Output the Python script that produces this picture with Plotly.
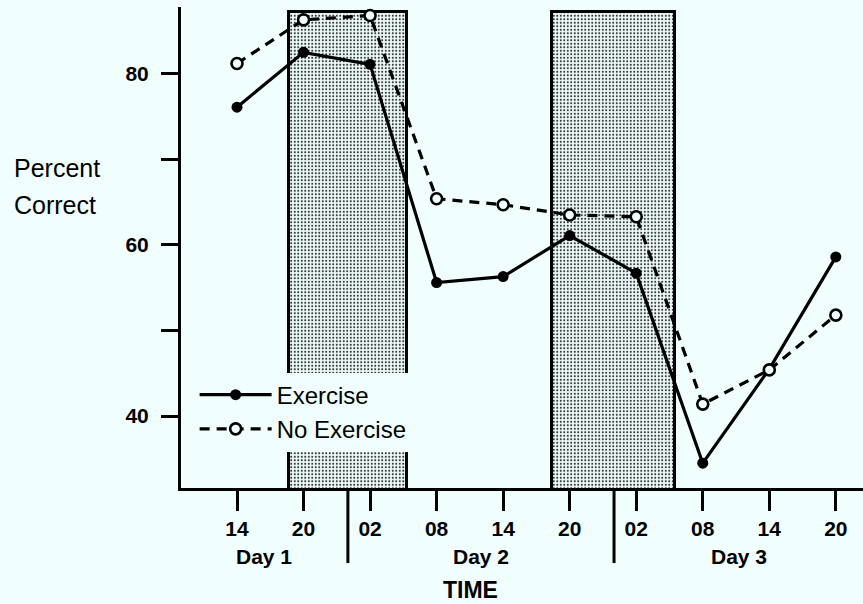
import plotly.graph_objects as go

# ---- data ----
hours = [14, 20, 26, 32, 38, 44, 50, 56, 62, 68]          # clock time in hours from Day 1 00:00
tick_labels = ["14", "20", "02", "08", "14", "20", "02", "08", "14", "20"]
exercise = [76.1, 82.5, 81.1, 55.6, 56.3, 61.1, 56.7, 34.5, 45.5, 58.6]
no_exercise = [81.2, 86.3, 86.8, 65.4, 64.7, 63.5, 63.3, 41.4, 45.4, 51.8]

dark_start = [18.7, 42.4]     # shaded (night) periods, hours
dark_end = [29.3, 53.5]
dark_top = 87.2

day_names = ["Day 1", "Day 2", "Day 3"]
day_breaks = [24, 48]          # midnight separators

y_ticks = [40, 50, 60, 70, 80]
y_tick_text = ["40", "", "60", "", "80"]

x_range = [8.95, 70.45]
y_range = [31.6, 87.8]

BG = "#f0fefe"
FONT = "Liberation Sans, Arial, Helvetica, sans-serif"

fig = go.Figure()

# shaded (night) periods
fig.add_trace(go.Bar(
    x=[(s + e) / 2 for s, e in zip(dark_start, dark_end)],
    y=[dark_top] * len(dark_start),
    width=[e - s for s, e in zip(dark_start, dark_end)],
    marker=dict(
        color=BG,
        line=dict(color="black", width=3),
        pattern=dict(shape=".", fgcolor="#333333", bgcolor=BG, size=3.5, solidity=0.27, fillmode="replace"),
    ),
    showlegend=False,
    hoverinfo="skip",
))

fig.add_trace(go.Scatter(
    x=hours, y=exercise, name="Exercise", mode="lines+markers",
    line=dict(color="black", width=3.2),
    marker=dict(symbol="circle", size=11, color="black"),
))
fig.add_trace(go.Scatter(
    x=hours, y=no_exercise, name="No Exercise", mode="lines+markers",
    line=dict(color="black", width=3.2, dash="10px,7px"),
    marker=dict(symbol="circle", size=11, color=BG, line=dict(color="black", width=2.6)),
))

# midnight separators below the axis
for b in day_breaks:
    fig.add_shape(type="line", xref="x", yref="paper", x0=b, x1=b, y0=0, y1=-0.156,
                  line=dict(color="black", width=3))

# day labels centred in each day span
bounds = [x_range[0]] + day_breaks + [x_range[1]]
for i, name in enumerate(day_names):
    fig.add_annotation(x=(bounds[i] + bounds[i + 1]) / 2, y=-0.143, xref="x", yref="paper",
                       text="<b>%s</b>" % name, showarrow=False,
                       font=dict(size=21, color="black", family=FONT),
                       xanchor="center", yanchor="middle")

fig.add_annotation(x=0.425, y=-0.212, xref="paper", yref="paper", text="<b>TIME</b>", showarrow=False,
                   font=dict(size=23, color="black", family=FONT), xanchor="center", yanchor="middle")
fig.add_annotation(x=-0.248, y=0.665, xref="paper", yref="paper", text="Percent", showarrow=False,
                   font=dict(size=25, color="black", family=FONT), xanchor="left", yanchor="middle")
fig.add_annotation(x=-0.248, y=0.588, xref="paper", yref="paper", text="Correct", showarrow=False,
                   font=dict(size=25, color="black", family=FONT), xanchor="left", yanchor="middle")

fig.update_layout(
    width=863, height=604,
    margin=dict(l=181, r=0, t=7, b=116),
    paper_bgcolor=BG, plot_bgcolor=BG,
    font=dict(family=FONT, color="black"),
    showlegend=True,
    legend=dict(x=0.02, y=0.24, xanchor="left", yanchor="top", bgcolor=BG,
                font=dict(size=24, color="black", family=FONT), itemwidth=72,
                tracegroupgap=0, borderwidth=0),
    xaxis=dict(range=x_range, tickvals=hours, ticktext=["<b>%s</b>" % t for t in tick_labels],
               showgrid=False, zeroline=False,
               showline=True, linecolor="black", linewidth=3, ticks="outside", ticklen=20,
               tickwidth=3, tickcolor="black", tickfont=dict(size=21, color="black", family=FONT)),
    yaxis=dict(range=y_range, tickvals=y_ticks, ticktext=["<b>%s</b>" % t if t else "" for t in y_tick_text],
               showgrid=False, zeroline=False,
               showline=True, linecolor="black", linewidth=3, ticks="outside", ticklen=17,
               tickwidth=3, tickcolor="black", tickfont=dict(size=21, color="black", family=FONT),
               ticklabelstandoff=8),
    bargap=0,
)

fig.write_html("out.html", config={"displayModeBar": False},
               post_script="document.body.style.margin='0px';document.body.style.background='%s';" % BG)
